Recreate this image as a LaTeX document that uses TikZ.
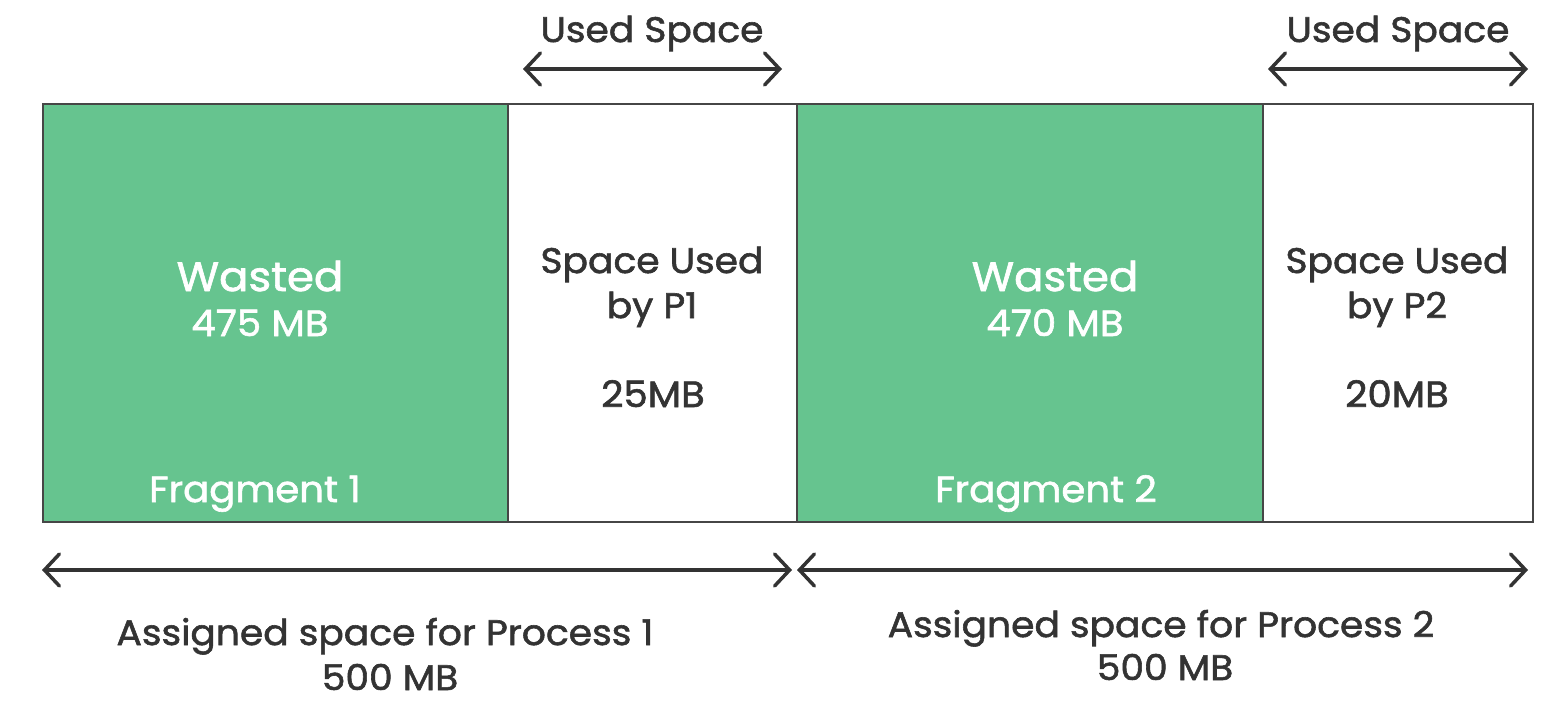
\documentclass[tikz,border=0pt]{standalone}
\usepackage{fontspec}
\setmainfont{Poppins}[FakeBold=1.6,FakeStretch=1.06]
\usetikzlibrary{arrows.meta}
\definecolor{gfill}{RGB}{102,196,143}
\definecolor{ink}{RGB}{51,51,51}
\definecolor{edge}{RGB}{70,70,70}
\begin{document}
\begin{tikzpicture}[x=1pt,y=-1pt,
  cell/.style={draw=edge,line width=2.5pt,anchor=north west,minimum height=418pt,inner sep=0pt,outer sep=0pt},
  gcell/.style={cell,fill=gfill},
  wcell/.style={cell,fill=white},
  wtxt/.style={text=white,inner sep=0pt,anchor=base},
  dtxt/.style={text=ink,inner sep=0pt,anchor=base},
  big/.style={font=\fontsize{41}{48}\selectfont},
  mid/.style={font=\fontsize{36.5}{42}\selectfont},
  std/.style={font=\fontsize{35.5}{42}\selectfont},
  dim/.style={draw=ink,line width=3.5pt,{Straight Barb[length=15pt,width=32pt,line cap=round]}-{Straight Barb[length=15pt,width=32pt,line cap=round]}}
]
\useasboundingbox (0,0) rectangle (1562,714);
% boxes
\node[gcell,minimum width=465pt] (g1) at (43,104) {};
\node[wcell,minimum width=289pt] (w1) at (508,104) {};
\node[gcell,minimum width=466pt] (g2) at (797,104) {};
\node[wcell,minimum width=270pt] (w2) at (1263,104) {};
% texts in boxes
\node[wtxt,big] (wa1) at (260,291) {Wasted};
\node[wtxt,mid] (wb1) at (260,336) {475 MB};
\node[wtxt,mid] (f1) at (255,502) {Fragment 1};
\node[dtxt,std] (sa1) at (652,273) {Space Used};
\node[dtxt,std] (sb1) at (652,318) {by P1};
\node[dtxt,mid] (sc1) at (653,407) {25MB};
\node[wtxt,big] (wa2) at (1055,291) {Wasted};
\node[wtxt,mid] (wb2) at (1055,336) {470 MB};
\node[wtxt,mid] (f2) at (1046,502) {Fragment 2};
\node[dtxt,std] (sa2) at (1397,273) {Space Used};
\node[dtxt,std] (sb2) at (1397,318) {by P2};
\node[dtxt,mid] (sc2) at (1397,407) {20MB};
% used space labels
\node[dtxt,std] (u1) at (652,42) {Used Space};
\node[dtxt,std] (u2) at (1398,42) {Used Space};
\coordinate (u1l) at (523,69);
\coordinate (u1r) at (782,69);
\coordinate (u2l) at (1268,69);
\coordinate (u2r) at (1528,69);
\draw[dim] (u1l) -- (u1r);
\draw[dim] (u2l) -- (u2r);
% bottom
\coordinate (b1l) at (42,570);
\coordinate (b1r) at (792,570);
\coordinate (b2l) at (797,570);
\coordinate (b2r) at (1528,570);
\draw[dim] (b1l) -- (b1r);
\draw[dim] (b2l) -- (b2r);
\node[dtxt,std] (a1) at (385,645) {Assigned space for Process 1};
\node[dtxt,std] (m1) at (390,690) {500 MB};
\node[dtxt,std] (a2) at (1161,637) {Assigned space for Process 2};
\node[dtxt,std] (m2) at (1165,680) {500 MB};
\end{tikzpicture}
\end{document}
